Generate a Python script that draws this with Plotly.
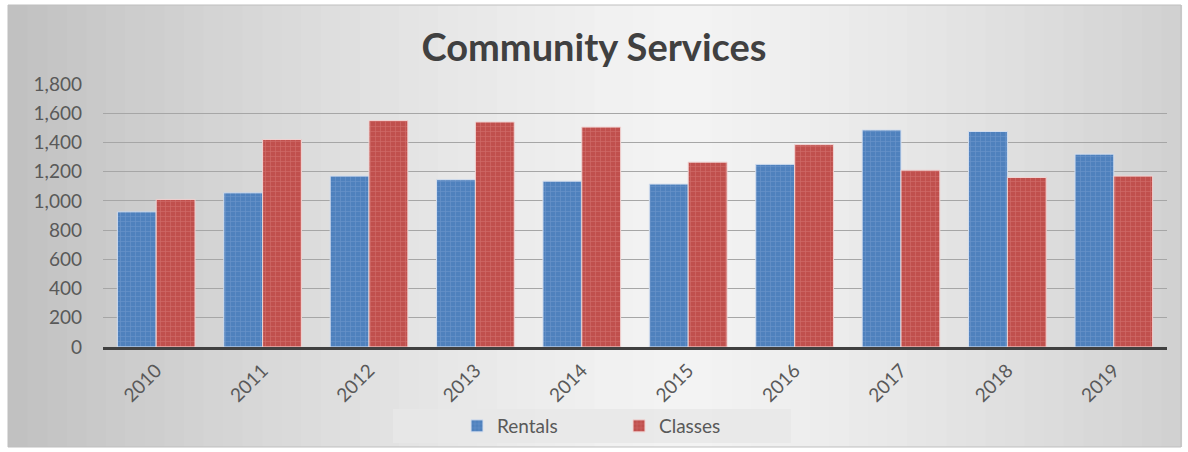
import plotly.graph_objects as go

years = ["2010", "2011", "2012", "2013", "2014", "2015", "2016", "2017", "2018", "2019"]
rentals = [925, 1055, 1170, 1145, 1135, 1115, 1250, 1485, 1475, 1320]
classes = [1010, 1420, 1550, 1540, 1505, 1265, 1385, 1210, 1160, 1170]
y_ticks = [0, 200, 400, 600, 800, 1000, 1200, 1400, 1600, 1800]
y_ticktext = [f"{v:,}" for v in y_ticks]

W, H = 1188, 452
L, R, T, B = 103, 21, 84, 105
pw, ph = W - L - R, H - T - B


def px_x(x):
    return (x - L) / pw


def px_y(y):
    return (H - B - y) / ph


fig = go.Figure()
fig.add_trace(go.Bar(
    x=years, y=rentals, name="Rentals",
    marker=dict(color="#4f81bd", line=dict(color="#d3deee", width=1),
                pattern=dict(shape="+", size=5, solidity=0.25, fgcolor="#7fa3d3")),
))
fig.add_trace(go.Bar(
    x=years, y=classes, name="Classes",
    marker=dict(color="#c0504d", line=dict(color="#f0d3d2", width=1),
                pattern=dict(shape="+", size=5, solidity=0.25, fgcolor="#dc8683")),
))

# grey gradient background inside the chart frame
shapes = []
x0, x1 = 8, 1181
n = 60
for i in range(n):
    a = x0 + (x1 - x0) * i / n
    b = x0 + (x1 - x0) * (i + 1) / n
    c = (a + b) / 2
    d = abs(c - 680) / 680
    g = int(244 - 52 * d ** 1.3)
    shapes.append(dict(type="rect", xref="paper", yref="paper",
                       x0=px_x(a), x1=px_x(b) + 0.001, y0=px_y(447), y1=px_y(5),
                       fillcolor=f"rgb({g},{g},{g})", line=dict(width=0), layer="below"))
shapes.append(dict(type="rect", xref="paper", yref="paper",
                   x0=px_x(x0), x1=px_x(x1), y0=px_y(447), y1=px_y(5),
                   fillcolor="rgba(0,0,0,0)", line=dict(color="#bfbfbf", width=1), layer="below"))
# legend box
shapes.append(dict(type="rect", xref="paper", yref="paper",
                   x0=px_x(393), x1=px_x(791), y0=px_y(443), y1=px_y(409),
                   fillcolor="rgba(232,232,232,0.85)", line=dict(width=0), layer="below"))

fig.update_layout(
    width=W, height=H,
    margin=dict(l=L, r=R, t=T, b=B, autoexpand=False),
    paper_bgcolor="white",
    plot_bgcolor="rgba(0,0,0,0)",
    shapes=shapes,
    title=dict(text="<b>Community Services</b>", x=594 / W, xref="container", y=1 - 48 / H,
               yref="container", xanchor="center", yanchor="middle",
               font=dict(family="Lato, Open Sans, sans-serif", size=38, color="#404040")),
    font=dict(family="Lato, Open Sans, sans-serif", size=19, color="#595959"),
    barmode="group", bargap=0.27, bargroupgap=0.0,
    xaxis=dict(tickangle=-45, showgrid=False, showline=True, linecolor="#404040",
               linewidth=3, ticks="", tickfont=dict(size=19), automargin=False,
               ticklabelstandoff=2),
    yaxis=dict(range=[0, 1800], tickvals=y_ticks, ticktext=y_ticktext,
               showgrid=True, gridcolor="#a6a6a6", gridwidth=1, zeroline=False,
               showline=False, ticks="", tickfont=dict(size=19), automargin=False,
               ticklabelstandoff=20),
    legend=dict(orientation="h", x=457 / W, y=1 - 426 / H, xref="container",
                yref="container", xanchor="left", yanchor="middle",
                bgcolor="rgba(0,0,0,0)", font=dict(size=19),
                itemwidth=30, entrywidth=117, entrywidthmode="pixels",
                traceorder="normal"),
)

fig.write_html("out.html", config={"displayModeBar": False},
               post_script="document.body.style.margin='0';")
